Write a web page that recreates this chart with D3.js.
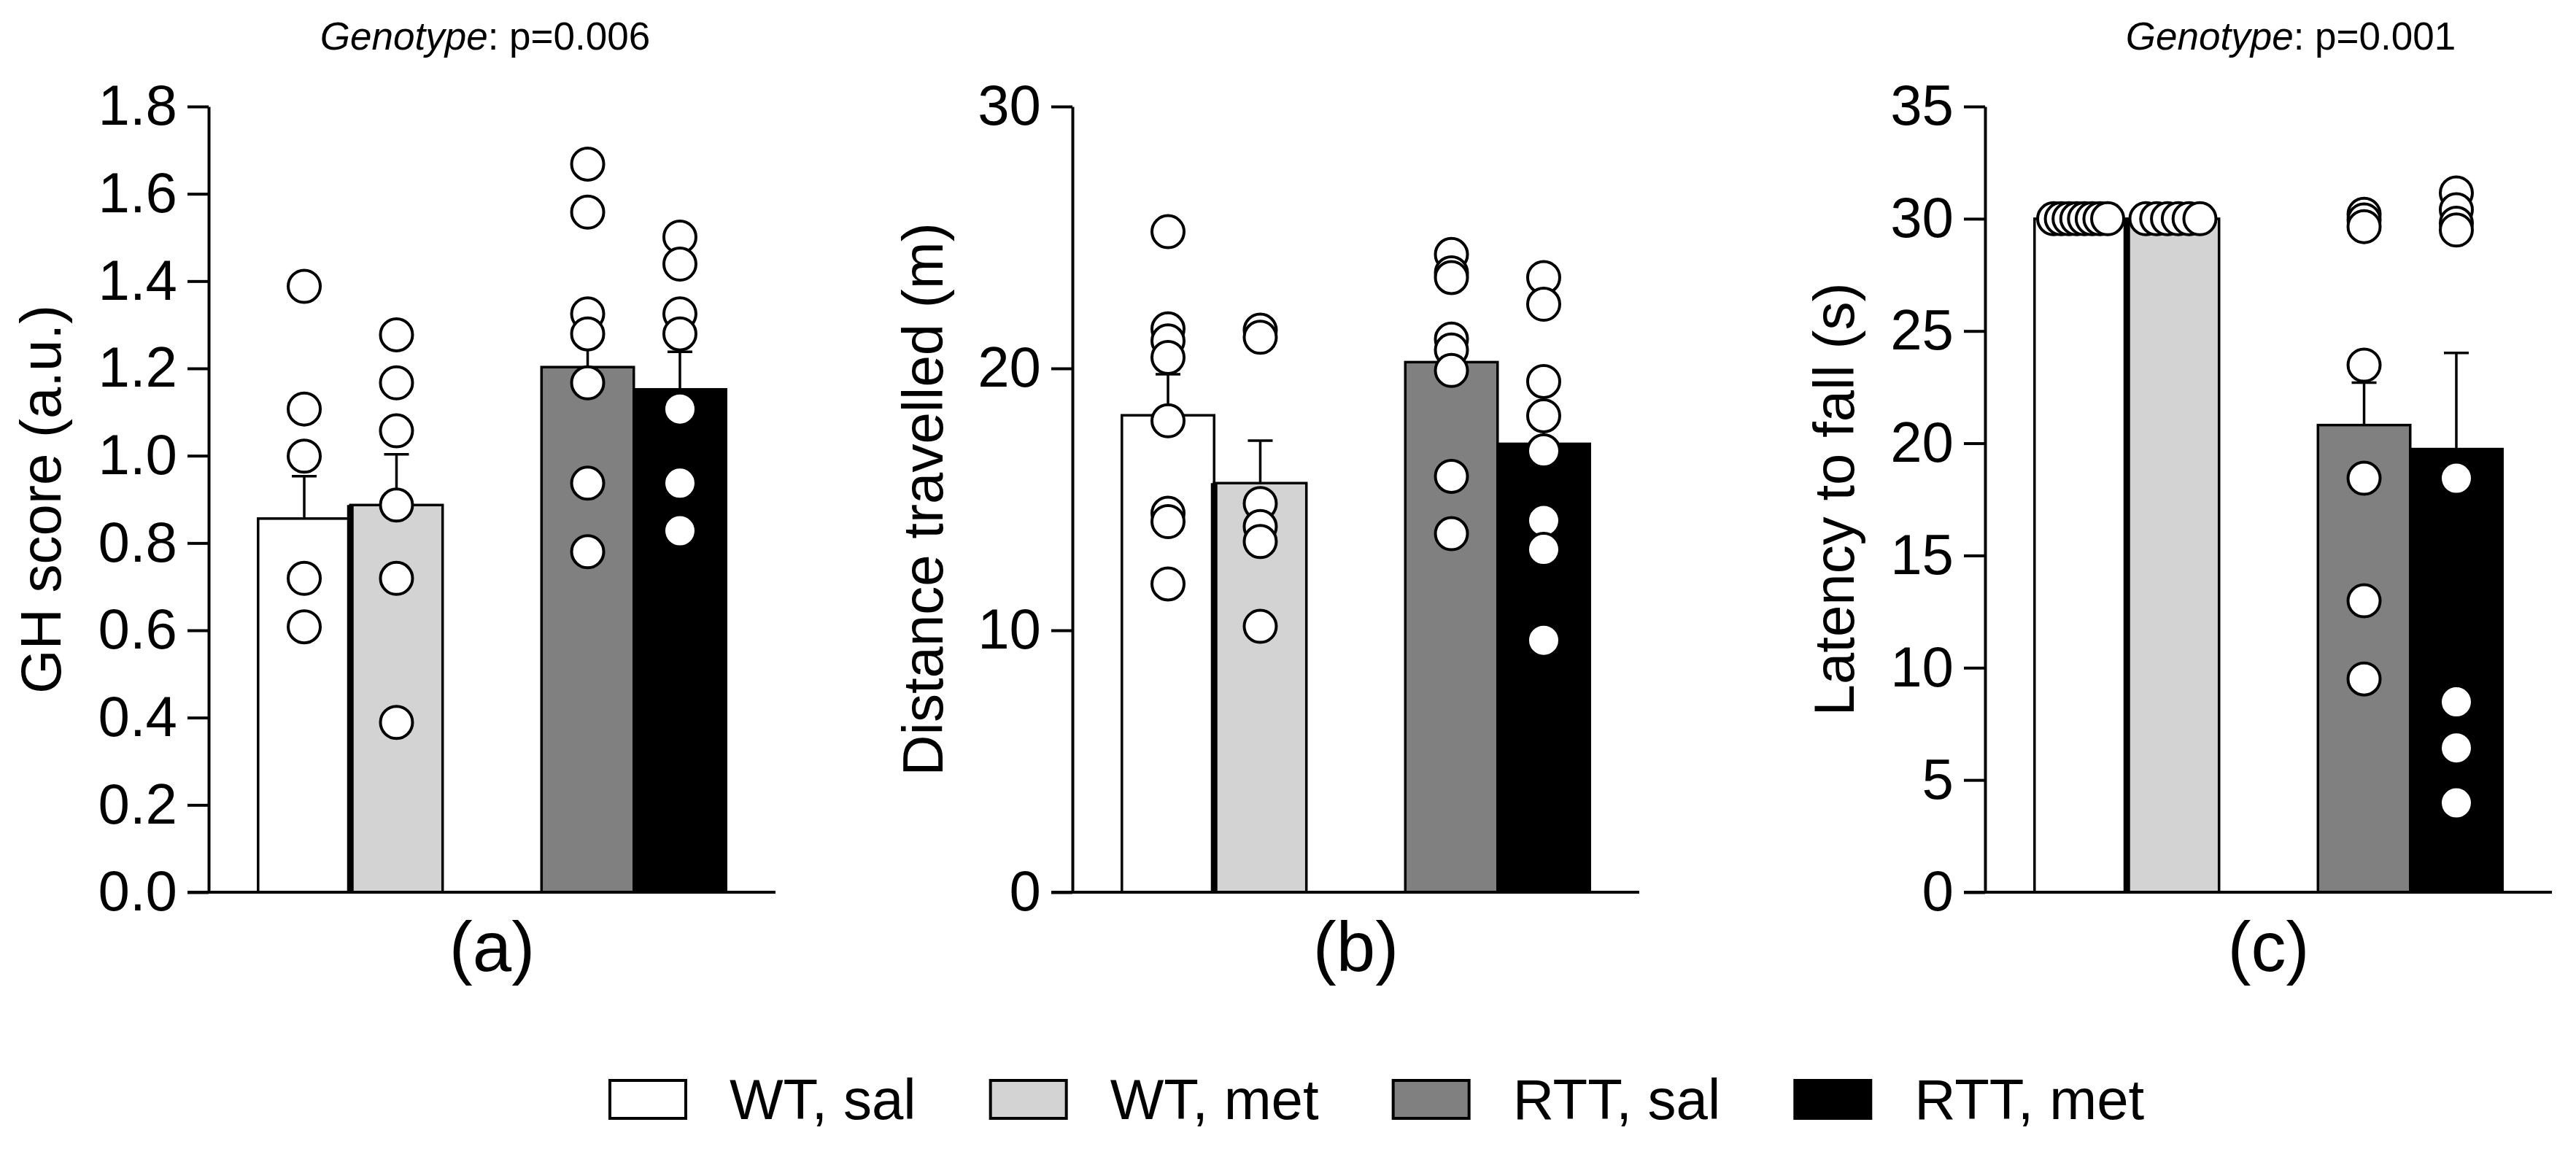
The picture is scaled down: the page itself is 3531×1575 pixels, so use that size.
<!DOCTYPE html>
<html>
<head>
<meta charset="utf-8">
<script src="https://cdn.jsdelivr.net/npm/d3@7"></script>
<style>
  body { margin: 0; background: #fff; }
  svg text { font-family: "Liberation Sans", Arial, sans-serif; fill: #000; }
</style>
</head>
<body>
<div id="chart"></div>
<script>
// groups / colours
const GROUPS    = ["WT, sal", "WT, met", "RTT, sal", "RTT, met"];
const GENOTYPES = ["WT", "RTT"];
const FILLS     = ["#ffffff", "#d3d3d3", "#808080", "#000000"];

// (a) GH score
const ghMean   = [0.856, 0.887, 1.203, 1.152];
const ghSem    = [0.097, 0.116, 0.067, 0.086];
const ghPoints = [
  [1.388, 1.107, 0.999, 0.719, 0.608],
  [1.277, 1.167, 1.057, 0.887, 0.719, 0.389],
  [1.668, 1.558, 1.325, 1.279, 1.167, 0.937, 0.780],
  [1.501, 1.439, 1.325, 1.279, 1.107, 0.937, 0.828]
];
const ghTicks = [0, 0.2, 0.4, 0.6, 0.8, 1.0, 1.2, 1.4, 1.6, 1.8];

// (b) distance travelled
const distMean   = [18.21, 15.62, 20.24, 17.12];
const distSem    = [1.57, 1.62, 1.16, 1.18];
const distPoints = [
  [25.22, 21.51, 21.05, 20.42, 18.0, 14.47, 14.15, 11.77],
  [21.46, 21.19, 14.84, 13.96, 13.39, 10.15],
  [24.35, 23.65, 23.47, 21.12, 20.70, 19.92, 15.88, 13.69],
  [23.47, 22.45, 19.50, 18.19, 16.85, 14.19, 13.09, 9.62]
];
const distTicks = [0, 10, 20, 30];

// (c) latency to fall
const latMean   = [30, 30, 20.81, 19.74];
const latSem    = [0, 0, 1.89, 4.28];
const latPoints = [
  [30, 30, 30, 30, 30, 30, 30, 30],
  [30, 30, 30, 30, 30, 30],
  [30.2, 29.95, 29.65, 23.48, 18.44, 12.98, 9.5],
  [31.15, 30.4, 29.8, 29.5, 18.44, 8.48, 6.43, 3.98]
];
const latTicks = [0, 5, 10, 15, 20, 25, 30, 35];

const PANELS = [
  { id: "(a)", title: "GH score (a.u.)", mean: ghMean, sem: ghSem, points: ghPoints,
    ticks: ghTicks, fmt: d3.format(".1f"), left: 286, titleOff: 203,
    note: { p: "p=0.006", x: 665 } },
  { id: "(b)", title: "Distance travelled (m)", mean: distMean, sem: distSem, points: distPoints,
    ticks: distTicks, fmt: d3.format("d"), left: 1470, titleOff: 178, note: null },
  { id: "(c)", title: "Latency to fall (s)", mean: latMean, sem: latSem, points: latPoints,
    ticks: latTicks, fmt: d3.format("d"), left: 2721, titleOff: 180,
    note: { p: "p=0.001", x: 3140 } }
];

const W = 3531, H = 1575;
const PANEL_W = 777;
const TOP = 146, BOTTOM = 1223;
const TICK = 29;
const R = 22;
const SPREAD = 37;

const svg = d3.select("#chart").append("svg")
  .attr("width", W).attr("height", H);

PANELS.forEach(p => {
  const g = svg.append("g").attr("transform", `translate(${p.left},0)`);

  const y = d3.scaleLinear()
    .domain([0, d3.max(p.ticks)])
    .range([BOTTOM, TOP]);

  const x0 = d3.scaleBand()
    .domain(GENOTYPES)
    .range([0, PANEL_W])
    .paddingInner(0.349)
    .paddingOuter(0.1745);

  const x1 = d3.scaleBand()
    .domain([0, 1])
    .range([0, x0.bandwidth()]);

  const barX = i => x0(GENOTYPES[i < 2 ? 0 : 1]) + x1(i % 2);
  const barW = x1.bandwidth();

  // bars
  p.mean.forEach((m, i) => {
    g.append("rect")
      .attr("x", barX(i))
      .attr("y", y(m))
      .attr("width", barW)
      .attr("height", y(0) - y(m))
      .attr("fill", FILLS[i])
      .attr("stroke", "#000")
      .attr("stroke-width", 3.5);
    // heavier left edge on the second bar of the wild-type pair
    if (i === 1) {
      g.append("line")
        .attr("x1", barX(i)).attr("x2", barX(i))
        .attr("y1", y(m)).attr("y2", y(0))
        .attr("stroke", "#000").attr("stroke-width", 9);
    }
  });

  // error bars (upper half only)
  p.mean.forEach((m, i) => {
    if (!p.sem[i]) return;
    const cx = barX(i) + barW / 2;
    g.append("line")
      .attr("x1", cx).attr("x2", cx)
      .attr("y1", y(m)).attr("y2", y(m + p.sem[i]))
      .attr("stroke", "#000").attr("stroke-width", 3.5);
    g.append("line")
      .attr("x1", cx - 17).attr("x2", cx + 17)
      .attr("y1", y(m + p.sem[i])).attr("y2", y(m + p.sem[i]))
      .attr("stroke", "#000").attr("stroke-width", 3.5);
  });

  // y axis
  const yAxis = g.append("g")
    .call(d3.axisLeft(y)
      .tickValues(p.ticks)
      .tickFormat(p.fmt)
      .tickSize(TICK)
      .tickSizeOuter(0)
      .tickPadding(14));
  yAxis.select(".domain").attr("stroke-width", 4).attr("stroke", "#000");
  yAxis.selectAll(".tick line").attr("stroke-width", 4).attr("stroke", "#000");
  yAxis.selectAll(".tick text")
    .style("font-family", '"Liberation Sans", Arial, sans-serif')
    .style("font-size", "78px")
    .attr("fill", "#000");

  // x baseline
  g.append("line")
    .attr("x1", -TICK).attr("x2", PANEL_W)
    .attr("y1", y(0)).attr("y2", y(0))
    .attr("stroke", "#000").attr("stroke-width", 4);

  // individual points, identical values spread sideways
  p.points.forEach((pts, i) => {
    const cx = barX(i) + barW / 2;
    const counts = d3.rollup(pts, v => v.length, d => d);
    const seen = new Map();
    pts.forEach(v => {
      const n = counts.get(v);
      const k = seen.get(v) || 0;
      seen.set(v, k + 1);
      const dx = n > 1 ? -SPREAD + (2 * SPREAD) * k / (n - 1) : 0;
      g.append("circle")
        .attr("cx", cx + dx)
        .attr("cy", y(v))
        .attr("r", R)
        .attr("fill", "#fff")
        .attr("stroke", "#000")
        .attr("stroke-width", 4);
    });
  });

  // y title
  g.append("text")
    .attr("transform", `translate(${-p.titleOff},${(TOP + BOTTOM) / 2}) rotate(-90)`)
    .attr("text-anchor", "middle")
    .style("font-size", "78px")
    .text(p.title);

  // panel letter
  g.append("text")
    .attr("x", PANEL_W / 2)
    .attr("y", 1331)
    .attr("text-anchor", "middle")
    .style("font-size", "96px")
    .text(p.id);

  // genotype note
  if (p.note) {
    const t = svg.append("text")
      .attr("x", p.note.x)
      .attr("y", 68)
      .attr("text-anchor", "middle")
      .style("font-size", "53px");
    t.append("tspan").style("font-style", "italic").text("Genotype");
    t.append("tspan").text(": " + p.note.p);
  }
});

// legend
const legend = svg.append("g");
let lx = 836;
GROUPS.forEach((name, i) => {
  legend.append("rect")
    .attr("x", lx).attr("y", 1481)
    .attr("width", 104).attr("height", 52)
    .attr("fill", FILLS[i])
    .attr("stroke", "#000")
    .attr("stroke-width", 4);
  const t = legend.append("text")
    .attr("x", lx + 104 + 60)
    .attr("y", 1534)
    .style("font-size", "78px")
    .text(name);
  lx += 104 + 60 + t.node().getComputedTextLength() + 102;
});
</script>
</body>
</html>
